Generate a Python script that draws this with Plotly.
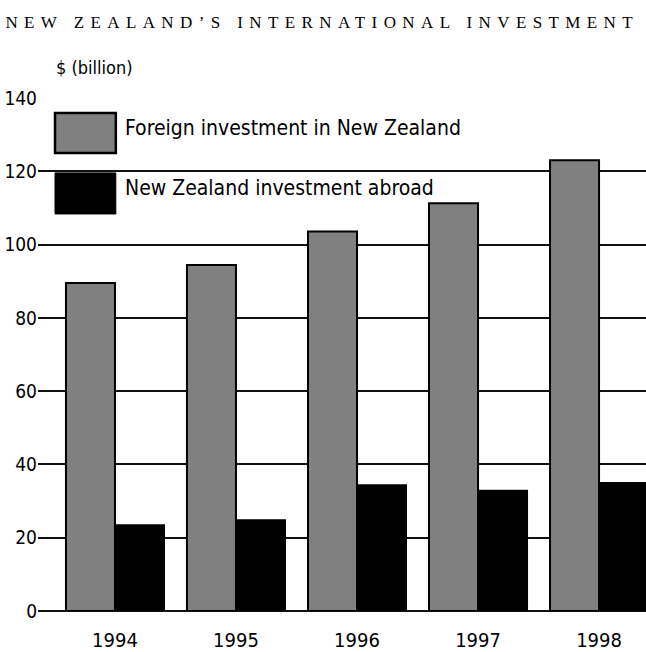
import plotly.graph_objects as go

years = ["1994", "1995", "1996", "1997", "1998"]
foreign_in_nz = [89.5, 94.4, 103.6, 111.3, 123.0]
nz_abroad = [23.4, 24.8, 34.3, 32.8, 34.9]
y_ticks = [0, 20, 40, 60, 80, 100, 120, 140]
series_names = ["Foreign investment in New Zealand", "New Zealand investment abroad"]
title_text = "NEW ZEALAND\u2019S INTERNATIONAL INVESTMENT"
y_title = "$ (billion)"

NARROW = "DejaVu Sans Condensed, sans-serif"
SERIF = "Liberation Serif, DejaVu Serif, serif"

fig = go.Figure()
fig.add_trace(go.Bar(x=years, y=foreign_in_nz, name=series_names[0],
                     marker=dict(color="#808080", line=dict(color="#000000", width=2))))
fig.add_trace(go.Bar(x=years, y=nz_abroad, name=series_names[1],
                     marker=dict(color="#000000", line=dict(color="#000000", width=2))))

fig.update_layout(
    width=646, height=652,
    margin=dict(l=38, r=0, t=98, b=41),
    paper_bgcolor="white", plot_bgcolor="white",
    barmode="group", bargap=0.19, bargroupgap=0,
    showlegend=False,
    font=dict(family=NARROW, color="#000000"),
    xaxis=dict(type="category", range=[-0.636, 4.388], showgrid=False, showline=False,
               ticks="outside", ticklen=11, tickcolor="rgba(0,0,0,0)", automargin=False,
               tickfont=dict(size=20, family=NARROW)),
    yaxis=dict(range=[0, 140], tickvals=y_ticks, showgrid=True, gridcolor="#111111",
               gridwidth=1.6, zeroline=True, zerolinecolor="#111111", zerolinewidth=1.6,
               showline=False, ticks="", automargin=False,
               tickfont=dict(size=19, family=NARROW)),
)

# Title (centred; letter-spacing applied after rendering)
fig.add_annotation(text=title_text, xref="paper", yref="paper", x=0.468, y=1.148,
                   xanchor="center", yanchor="middle", showarrow=False,
                   font=dict(family=SERIF, size=17, color="#000000"))
# Y-axis unit label
fig.add_annotation(text=y_title, xref="paper", yref="paper", x=0.026, y=1.060,
                   xanchor="left", yanchor="middle", showarrow=False,
                   font=dict(family=NARROW, size=18, color="#000000"))

# Legend (manual swatches)
fig.add_shape(type="rect", xref="paper", yref="paper", x0=0.028, x1=0.128, y0=0.893, y1=0.971,
              fillcolor="#808080", line=dict(color="#000000", width=2.5))
fig.add_shape(type="rect", xref="paper", yref="paper", x0=0.028, x1=0.128, y0=0.774, y1=0.854,
              fillcolor="#000000", line=dict(color="#000000", width=1))
fig.add_annotation(text=series_names[0], xref="paper", yref="paper", x=0.14, y=0.941,
                   xanchor="left", yanchor="middle", showarrow=False,
                   font=dict(family=NARROW, size=21, color="#000000"))
fig.add_annotation(text=series_names[1], xref="paper", yref="paper", x=0.14, y=0.825,
                   xanchor="left", yanchor="middle", showarrow=False,
                   font=dict(family=NARROW, size=21, color="#000000"))

post = """
document.body.style.margin = '0';
document.querySelectorAll('.annotation-text').forEach(function(t){
  if (t.textContent.indexOf('INVESTMENT') >= 0) { t.style.letterSpacing = '6.4px'; }
});
"""
fig.write_html("out.html", post_script=post, config={"displayModeBar": False})
